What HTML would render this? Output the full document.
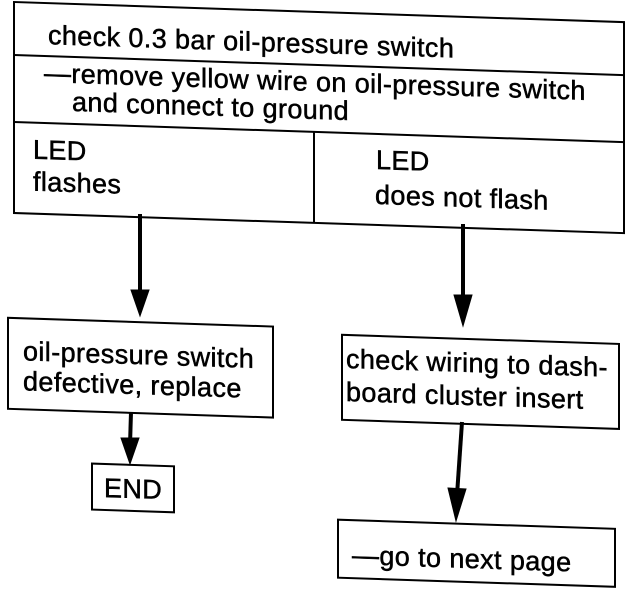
<!DOCTYPE html>
<html><head><style>
html,body{margin:0;padding:0;background:#fff;}
svg{display:block;}
text{font-family:"Liberation Sans",Arial,sans-serif;font-size:27px;letter-spacing:0.4px;fill:#000;stroke:#000;stroke-width:0.5;}
</style></head><body>
<svg width="640" height="596" viewBox="0 0 640 596" xmlns="http://www.w3.org/2000/svg">
<g transform="matrix(1,0.033,0,1,0,-0.46)" stroke="#000" stroke-width="2" fill="none">
  <rect x="14" y="2" width="610" height="211"/>
  <line x1="14" y1="55" x2="624" y2="55"/>
  <line x1="14" y1="122" x2="624" y2="122"/>
  <line x1="314" y1="122" x2="314" y2="213"/>
  <rect x="8" y="318" width="265" height="91"/>
  <rect x="92" y="461" width="82" height="46"/>
  <rect x="342" y="324" width="277" height="85"/>
  <rect x="338" y="509" width="277" height="58"/>
</g>
<g transform="matrix(1,0.033,0,1,0,-0.46)">
  <text x="48" y="43">check 0.3 bar oil-pressure switch</text>
  <text x="44" y="81">—remove yellow wire on oil-pressure switch</text>
  <text x="72" y="109">and connect to ground</text>
  <text x="33" y="158">LED</text>
  <text x="33" y="190">flashes</text>
  <text x="376" y="157">LED</text>
  <text x="375" y="192">does not flash</text>
  <text x="23" y="360">oil-pressure switch</text>
  <text x="23" y="390">defective, replace</text>
  <text x="104" y="494">END</text>
  <text x="346" y="357">check wiring to dash-</text>
  <text x="346" y="390">board cluster insert</text>
  <text x="352" y="553">—go to next page</text>
</g>
<g stroke="#000" stroke-width="4" fill="#000">
  <line x1="140" y1="214" x2="140" y2="295"/>
  <polygon points="131,290 149,290 140,316" stroke-width="1"/>
  <line x1="463" y1="224" x2="463" y2="300"/>
  <polygon points="454,295 472,295 463,326" stroke-width="1"/>
  <line x1="131" y1="412" x2="130" y2="445"/>
  <polygon points="121,438 139,438 130,464" stroke-width="1"/>
  <line x1="462" y1="422" x2="457" y2="495"/>
  <polygon points="448,488 466,489 456,521" stroke-width="1"/>
</g>
</svg>
</body></html>
